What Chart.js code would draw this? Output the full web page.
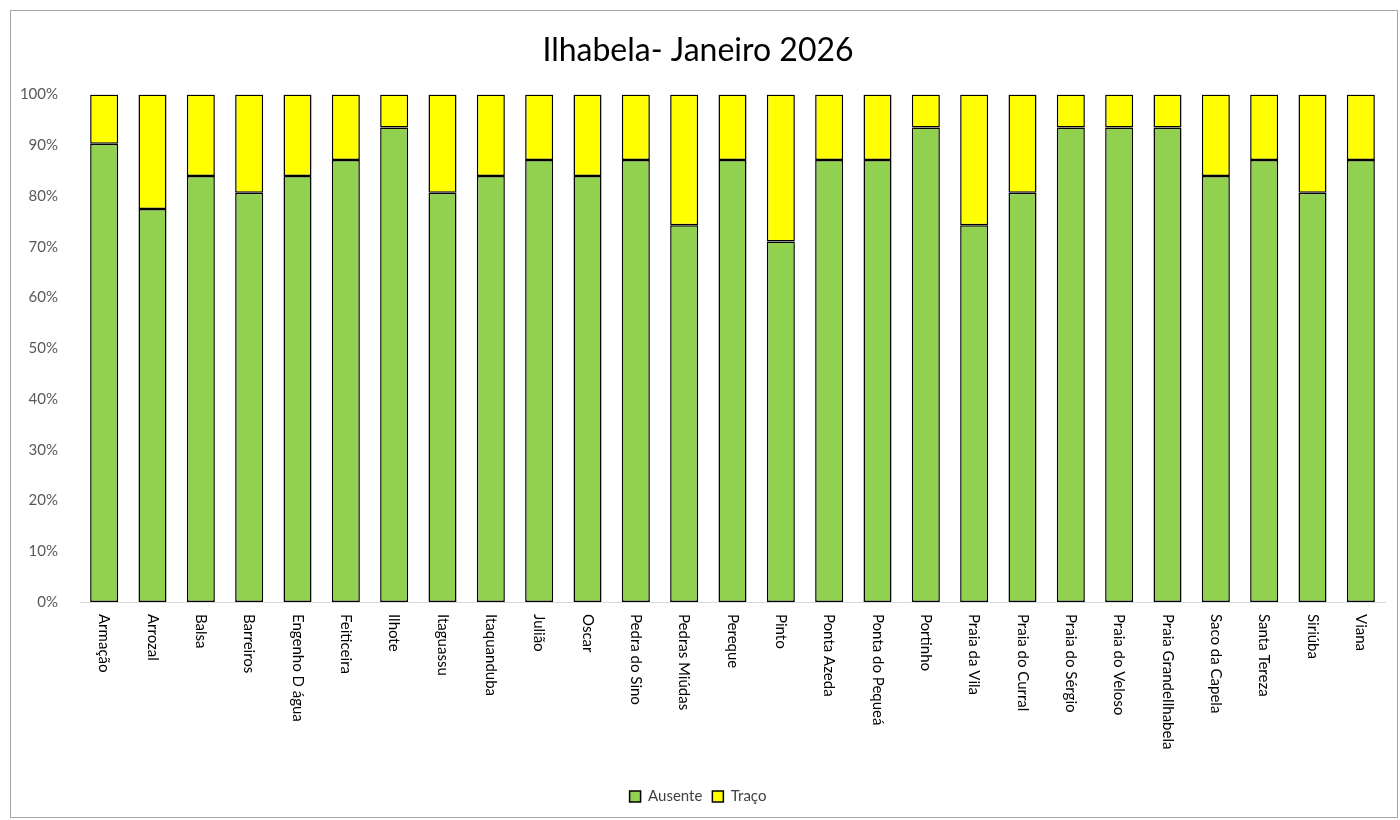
<!DOCTYPE html>
<html>
<head>
<meta charset="utf-8">
<script src="https://cdn.jsdelivr.net/npm/chart.js@4/dist/chart.umd.min.js"></script>
<style>
  html, body { margin: 0; padding: 0; background: #fff; width: 1400px; height: 820px; overflow: hidden; }
  #box { position: absolute; left: 10px; top: 10px; width: 1388px; height: 808px; border: 1px solid #a6a6a6; box-sizing: border-box; background: #fff; }
</style>
</head>
<body>
<div id="box"><canvas id="c"></canvas></div>
<script>
const chartTitle = 'Ilhabela- Janeiro 2026';
const categories = ['Armação','Arrozal','Balsa','Barreiros','Engenho D água','Feiticeira','Ilhote','Itaguassu','Itaquanduba','Julião','Oscar','Pedra do Sino','Pedras Miúdas','Pereque','Pinto','Ponta Azeda','Ponta do Pequeá','Portinho','Praia da Vila','Praia do Curral','Praia do Sérgio','Praia do Veloso','Praia GrandeIlhabela','Saco da Capela','Santa Tereza','Siriúba','Viana'];
const seriesNames = ['Ausente','Traço'];
const ausente = [90.3,77.4,83.9,80.6,83.9,87.1,93.5,80.6,83.9,87.1,83.9,87.1,74.2,87.1,71.0,87.1,87.1,93.5,74.2,80.6,93.5,93.5,93.5,83.9,87.1,80.6,87.1];
const traco   = [9.7,22.6,16.1,19.4,16.1,12.9,6.5,19.4,16.1,12.9,16.1,12.9,25.8,12.9,29.0,12.9,12.9,6.5,25.8,19.4,6.5,6.5,6.5,16.1,12.9,19.4,12.9];
const yTicks = [0,10,20,30,40,50,60,70,80,90,100];

const FONT = 'Lato, "Open Sans", sans-serif';

const rotatedLabels = {
  id: 'rotatedLabels',
  afterDraw(chart) {
    const xs = chart.scales.x;
    const ctx = chart.ctx;
    ctx.save();
    ctx.fillStyle = '#000';
    ctx.font = '15px ' + FONT;
    ctx.textAlign = 'left';
    ctx.textBaseline = 'middle';
    categories.forEach((lab, i) => {
      const x = xs.getPixelForTick(i);
      const y = xs.top + 12;
      ctx.save();
      ctx.translate(x, y);
      ctx.rotate(Math.PI / 2);
      ctx.fillText(lab, 0, 0);
      ctx.restore();
    });
    ctx.restore();
  }
};

new Chart(document.getElementById('c'), {
  type: 'bar',
  data: {
    labels: categories,
    datasets: [
      { label: seriesNames[0], data: ausente, backgroundColor: '#92D050', borderColor: '#000', borderWidth: 1.5, borderSkipped: false, barPercentage: 0.58, categoryPercentage: 1 },
      { label: seriesNames[1], data: traco, backgroundColor: '#FFFF00', borderColor: '#000', borderWidth: 1.5, borderSkipped: false, barPercentage: 0.58, categoryPercentage: 1 }
    ]
  },
  options: {
    responsive: true,
    maintainAspectRatio: false,
    animation: false,
    layout: { padding: { left: 0, right: 12, top: 0, bottom: 3 } },
    plugins: {
      title: {
        display: true,
        text: chartTitle,
        color: '#000',
        font: { family: FONT, size: 32, weight: 'normal' },
        padding: { top: 20, bottom: 25 }
      },
      legend: {
        display: true,
        position: 'bottom',
        labels: {
          color: '#404040',
          font: { family: FONT, size: 15 },
          boxWidth: 11,
          boxHeight: 11,
          padding: 10,
          generateLabels(chart) {
            return chart.data.datasets.map((ds, i) => ({
              text: ds.label,
              fillStyle: ds.backgroundColor,
              strokeStyle: '#000',
              lineWidth: 1.5,
              datasetIndex: i,
              hidden: false,
              fontColor: '#404040'
            }));
          }
        }
      },
      tooltip: { enabled: false }
    },
    scales: {
      x: {
        stacked: true,
        grid: { display: false },
        border: { display: true, color: '#d9d9d9', width: 1 },
        ticks: { display: false },
        afterFit(scale) { scale.height = 177; }
      },
      y: {
        stacked: true,
        min: 0,
        max: 100,
        grid: { display: false },
        border: { display: false },
        afterBuildTicks(scale) { scale.ticks = yTicks.map(v => ({ value: v })); },
        ticks: {
          color: '#595959',
          font: { family: FONT, size: 15 },
          padding: 14,
          callback: v => v + '%'
        },
        afterFit(scale) { scale.width = 69; }
      }
    }
  },
  plugins: [rotatedLabels]
});
</script>
</body>
</html>
